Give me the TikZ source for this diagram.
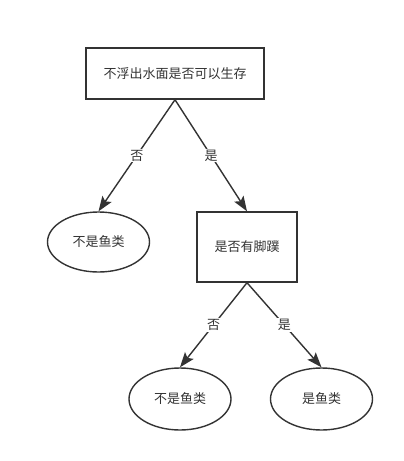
\documentclass[tikz,border=0pt]{standalone}
\usepackage{fontspec}
\newfontfamily\cjk{Noto Sans CJK SC}
\usetikzlibrary{shapes, arrows.meta}
\definecolor{darkgray}{HTML}{333333}

\begin{document}
\begin{tikzpicture}[x=1pt, y=-1pt,
	every node/.style={font=\cjk\fontsize{13pt}{15pt}\selectfont, text=darkgray},
	question/.style={draw=darkgray, line width=1.4pt, rectangle},
	leaf/.style={draw=darkgray, line width=1.4pt, ellipse, minimum width=102pt, minimum height=60pt},
	branch/.style={-{Stealth[length=15pt, width=11pt, inset=3pt]}, draw=darkgray, line width=1.4pt},
	answer/.style={fill=white, inner sep=1pt}]
	\useasboundingbox (0,0) rectangle (404,461);
	
	% Drawing the questions
	\node[question, minimum width=178pt, minimum height=51pt] (Q1) at (175,73.5) {不浮出水面是否可以生存};
	\node[question, minimum width=100pt, minimum height=70pt] (Q2) at (247,247) {是否有脚蹼};
	
	% Drawing the leaves
	\node[leaf] (L1) at (98.5,242) {不是鱼类};
	\node[leaf, minimum height=62pt] (L2) at (180,399) {不是鱼类};
	\node[leaf, minimum height=62pt] (L3) at (321.5,399) {是鱼类};
	
	% Drawing the branches and labels
	\draw[branch] (Q1.south) -- (L1.north) node[midway, answer] {否};
	\draw[branch] (Q1.south) -- (Q2.north) node[midway, answer] {是};
	\draw[branch] (Q2.south) -- (L2.north) node[midway, answer] {否};
	\draw[branch] (Q2.south) -- (L3.north) node[midway, answer] {是};
\end{tikzpicture}
\end{document}
